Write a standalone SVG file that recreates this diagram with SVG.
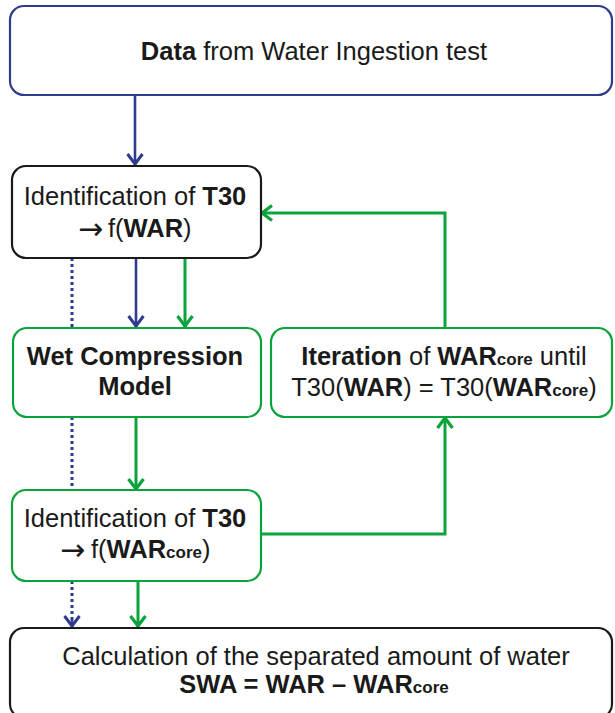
<svg xmlns="http://www.w3.org/2000/svg" width="615" height="713" viewBox="0 0 615 713">
<style>
.box{fill:#fff;stroke-width:2.2}
.blk{stroke:#1a1a1a}
.nav{stroke:#2F3B8C}
.grn{stroke:#0AA33C}
text{font-family:"Liberation Sans",Arial,sans-serif;font-size:25.5px;fill:#1a1a1a;text-anchor:middle}
.st{text-anchor:start}
.b{font-weight:bold}
.s{font-weight:bold;font-size:17px}
.ar{font-family:"DejaVu Sans",sans-serif;font-size:30px;text-anchor:start}
.cn{fill:none}
.ln{stroke:#2F3B8C;stroke-width:2.6}
.lg{stroke:#0AA33C;stroke-width:3}
.dot{stroke:#2F3B8C;stroke-width:3;stroke-dasharray:3 3}
</style>
<defs>
<marker id="an" markerUnits="userSpaceOnUse" markerWidth="20" markerHeight="20" viewBox="0 0 20 20" refX="17" refY="10" orient="auto">
<path d="M6,2.5 L16,10 L6,17.5" fill="none" stroke="#2F3B8C" stroke-width="3"/>
</marker>
<marker id="ag" markerUnits="userSpaceOnUse" markerWidth="20" markerHeight="20" viewBox="0 0 20 20" refX="17" refY="10" orient="auto">
<path d="M6,2.5 L16,10 L6,17.5" fill="none" stroke="#0AA33C" stroke-width="3.2"/>
</marker>
</defs>
<g id="connectors" class="cn">
<path class="ln" d="M135,95 V165" marker-end="url(#an)"/>
<path class="ln" d="M136,258 V327" marker-end="url(#an)"/>
<path class="lg" d="M185,258 V327" marker-end="url(#ag)"/>
<path class="lg" d="M445,328 V213 H261" marker-end="url(#ag)"/>
<path class="lg" d="M136,417 V490" marker-end="url(#ag)"/>
<path class="lg" d="M261,534 H445 V417" marker-end="url(#ag)"/>
<path class="lg" d="M138,581 V627" marker-end="url(#ag)"/>
<path class="dot" d="M72,258 V327 M72,417 V489 M72,581 V622"/>
<path class="ln" d="M72,620 V627" marker-end="url(#an)" stroke-width="0"/>
</g>
<g id="n-data">
<rect class="box nav" x="10" y="6" width="602" height="89" rx="14"/>
<text x="314" y="60"><tspan class="b">Data</tspan> from Water Ingestion test</text>
</g>
<g id="n-t30">
<rect class="box blk" x="12" y="166" width="249" height="92" rx="14"/>
<text x="135" y="205">Identification of <tspan class="b">T30</tspan></text>
<text class="ar" x="78" y="239">→</text>
<text class="st" x="108" y="237">f(<tspan class="b">WAR</tspan>)</text>
</g>
<g id="n-wet">
<rect class="box grn" x="13" y="328" width="248" height="89" rx="14"/>
<text class="b" x="135" y="365">Wet Compression</text>
<text class="b" x="135" y="395">Model</text>
</g>
<g id="n-iter">
<rect class="box grn" x="271" y="328" width="341" height="89" rx="14"/>
<text x="444" y="365"><tspan class="b">Iteration</tspan> of <tspan class="b">WAR</tspan><tspan class="s">core</tspan> until</text>
<text x="444" y="396">T30(<tspan class="b">WAR</tspan>) = T30(<tspan class="b">WAR</tspan><tspan class="s">core</tspan>)</text>
</g>
<g id="n-t30core">
<rect class="box grn" x="12" y="490" width="249" height="91" rx="14"/>
<text x="135" y="527">Identification of <tspan class="b">T30</tspan></text>
<text class="ar" x="60" y="560">→</text>
<text class="st" x="91" y="558">f(<tspan class="b">WAR</tspan><tspan class="s">core</tspan>)</text>
</g>
<g id="n-calc">
<rect class="box blk" x="10" y="628" width="602" height="90" rx="14"/>
<text x="316" y="665">Calculation of the separated amount of water</text>
<text class="b" x="314" y="693">SWA = WAR – WAR<tspan class="s">core</tspan></text>
</g>
</svg>
